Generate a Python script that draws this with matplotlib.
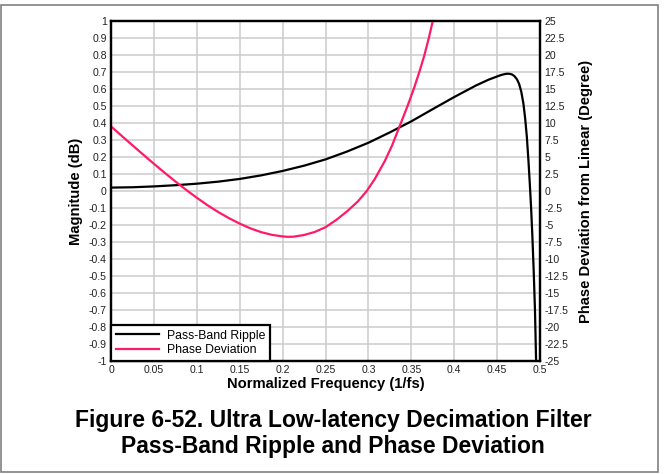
import matplotlib.pyplot as plt
from matplotlib.patches import Rectangle

plt.rcParams['font.family'] = ['Liberation Sans', 'DejaVu Sans']

# Pass-band ripple (dB), left axis
freq_mag = [0, 0.025, 0.05, 0.075, 0.1, 0.125, 0.15, 0.175, 0.2, 0.225, 0.25,
            0.275, 0.3, 0.325, 0.35, 0.375, 0.4, 0.425, 0.44, 0.45, 0.455,
            0.46, 0.4635, 0.467, 0.47, 0.473, 0.4755, 0.478, 0.4805, 0.4825,
            0.4845, 0.4865, 0.488, 0.4895, 0.491, 0.4925, 0.494, 0.4953]
magnitude = [0.02, 0.022, 0.027, 0.034, 0.043, 0.055, 0.071, 0.092, 0.118,
             0.149, 0.186, 0.232, 0.284, 0.345, 0.41, 0.482, 0.553, 0.62,
             0.655, 0.674, 0.683, 0.689, 0.69, 0.686, 0.676, 0.657, 0.63,
             0.585, 0.515, 0.43, 0.32, 0.17, 0.04, -0.1, -0.27, -0.47, -0.7,
             -1.0]

# Phase deviation from linear (degree), right axis
freq_phase = [0, 0.0125, 0.025, 0.0375, 0.05, 0.0625, 0.075, 0.0875, 0.1,
              0.1125, 0.125, 0.1375, 0.15, 0.1625, 0.175, 0.1875, 0.2, 0.206,
              0.2125, 0.225, 0.2375, 0.25, 0.2625, 0.275, 0.2875, 0.298,
              0.3075, 0.319, 0.3275, 0.335, 0.3455, 0.353, 0.3595, 0.3652,
              0.3703, 0.3749]
phase = [9.5, 8.1, 6.72, 5.35, 4.0, 2.68, 1.4, 0.17, -1.0, -2.1, -3.1, -4.0,
         -4.8, -5.5, -6.05, -6.45, -6.68, -6.74, -6.72, -6.47, -6.02, -5.32,
         -4.25, -3.0, -1.55, 0.0, 1.8, 4.4, 6.7, 9.1, 12.5, 15.1, 17.6, 20.0,
         22.5, 25.0]

x_ticks = [0, 0.05, 0.1, 0.15, 0.2, 0.25, 0.3, 0.35, 0.4, 0.45, 0.5]
left_ticks = [round(-1 + 0.1 * i, 1) for i in range(21)]
right_ticks = [-25 + 2.5 * i for i in range(21)]

pink = '#ff1a66'

fig = plt.figure(figsize=(6.66, 4.74), dpi=100)
fig.subplots_adjust(left=0.1667, right=0.811, bottom=0.2384, top=0.9557)
ax = fig.add_subplot(111)
ax2 = ax.twinx()

l1, = ax.plot(freq_mag, magnitude, color='black', lw=1.6, label='Pass-Band Ripple')
l2, = ax2.plot(freq_phase, phase, color=pink, lw=1.6, label='Phase Deviation')

ax.set_xlim(0, 0.5)
ax.set_ylim(-1, 1)
ax2.set_ylim(-25, 25)

ax.set_xticks(x_ticks)
ax.set_xticklabels(['%g' % t for t in x_ticks])
ax.set_yticks(left_ticks)
ax.set_yticklabels(['%g' % t for t in left_ticks])
ax2.set_yticks(right_ticks)
ax2.set_yticklabels(['%g' % t for t in right_ticks])

for a in (ax, ax2):
    a.tick_params(length=0, labelsize=7.6, pad=3, colors='#222222')
    for s in a.spines.values():
        s.set_linewidth(1.6)
        s.set_color('black')

ax.grid(True, color='#cccccc', lw=1.1)
ax.set_axisbelow(True)

ax.set_xlabel('Normalized Frequency (1/fs)', fontsize=10.6, fontweight='bold', labelpad=1)
ax.set_ylabel('Magnitude (dB)', fontsize=10.6, fontweight='bold', labelpad=4)
ax2.set_ylabel('Phase Deviation from Linear (Degree)', fontsize=10.6, fontweight='bold', labelpad=8)

leg = ax2.legend(handles=[l1, l2], loc='lower left', borderaxespad=0, fontsize=8.8,
                 fancybox=False, framealpha=1, edgecolor='black',
                 handlelength=3.5, handletextpad=0.65, borderpad=0.4,
                 labelspacing=0.2)
leg.get_frame().set_linewidth(1.6)

fig.text(0.5, 1 - 420 / 474, 'Figure 6-52. Ultra Low-latency Decimation Filter',
         ha='center', va='center', fontsize=16.5, fontweight='bold')
fig.text(0.5, 1 - 446 / 474, 'Pass-Band Ripple and Phase Deviation',
         ha='center', va='center', fontsize=16.5, fontweight='bold')

fig.patches.append(Rectangle((0.5 / 666, 1 - 472 / 474), 657.5 / 666, 467 / 474,
                             transform=fig.transFigure, fill=False,
                             edgecolor='#808080', lw=1.2))

fig.savefig('out.png', dpi=100)
